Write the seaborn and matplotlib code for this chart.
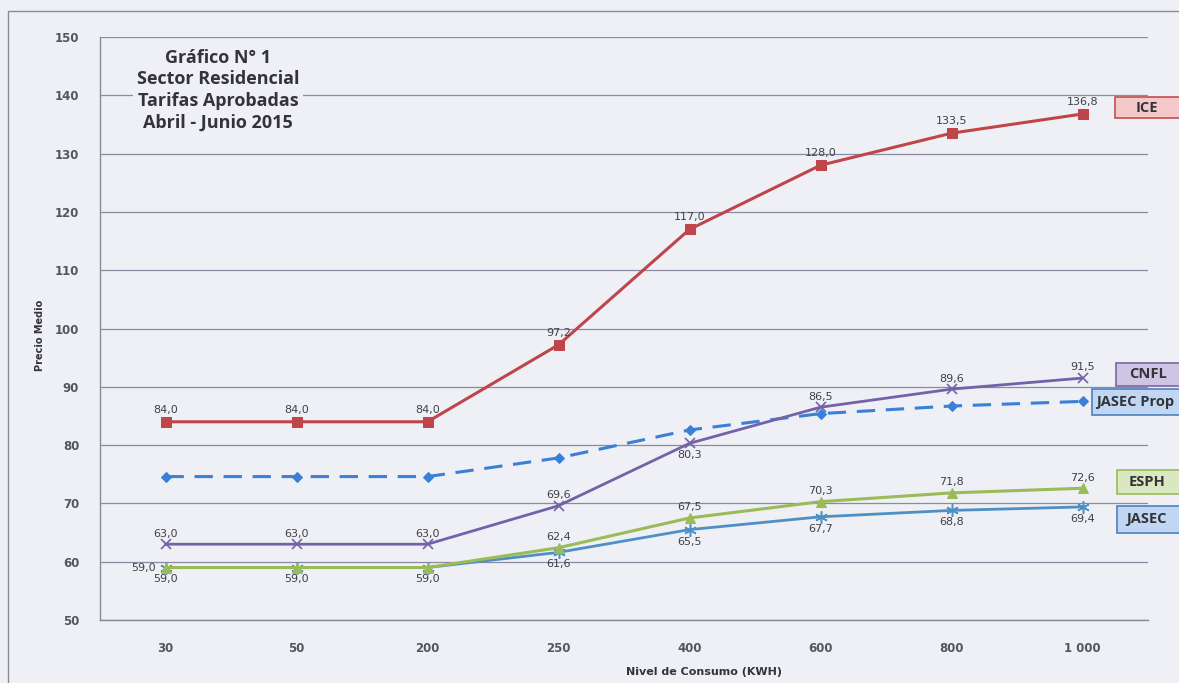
import matplotlib
matplotlib.use('Agg')
import matplotlib.pyplot as plt
import matplotlib.patches as mpatches
import seaborn as sns
import pandas as pd

# datos
niveles = ['30', '50', '200', '250', '400', '600', '800', '1 000']
ice = [84.0, 84.0, 84.0, 97.2, 117.0, 128.0, 133.5, 136.8]
cnfl = [63.0, 63.0, 63.0, 69.6, 80.3, 86.5, 89.6, 91.5]
jasec_prop = [74.6, 74.6, 74.6, 77.8, 82.6, 85.4, 86.7, 87.5]
esph = [59.0, 59.0, 59.0, 62.4, 67.5, 70.3, 71.8, 72.6]
jasec = [59.0, 59.0, 59.0, 61.6, 65.5, 67.7, 68.8, 69.4]

bg = '#eef0f5'
sns.set_style('white')
plt.rcParams['font.family'] = ['DejaVu Sans']

fig = plt.figure(figsize=(11.79, 6.83), dpi=100, facecolor=bg)
ax = fig.add_axes([100/1179, 1-620/683, 1048/1179, 583/683])
ax.set_facecolor(bg)

pos = list(range(len(niveles)))

def serie(vals, nombre):
    return pd.DataFrame({'pos': pos, 'valor': vals, 'empresa': nombre})

# lineas
sns.lineplot(data=serie(ice, 'ICE'), x='pos', y='valor', ax=ax, color='#c0454a',
             lw=2.2, marker='s', ms=7, mec='#c0454a', zorder=5)
sns.lineplot(data=serie(jasec_prop, 'JASEC Prop'), x='pos', y='valor', ax=ax, color='#3a80d6',
             lw=2.2, marker='D', ms=5.5, mec='#3a80d6', zorder=4)
ax.lines[-1].set_dashes([6, 3.5])
sns.lineplot(data=serie(cnfl, 'CNFL'), x='pos', y='valor', ax=ax, color='#7462a8',
             lw=2.0, marker='x', ms=7, mew=1.2, mec='#7462a8', zorder=5)
sns.lineplot(data=serie(jasec, 'JASEC'), x='pos', y='valor', ax=ax, color='#4f90c4',
             lw=2.0, marker=(6, 2, 0), ms=9, mew=1.1, mec='#4f90c4', zorder=4)
sns.lineplot(data=serie(esph, 'ESPH'), x='pos', y='valor', ax=ax, color='#9bbb59',
             lw=2.2, marker='^', ms=7, mec='#9bbb59', zorder=5)

ax.set_xlim(-0.5, 7.5)
ax.set_ylim(50, 150)
ax.set_yticks(range(50, 151, 10))
ax.set_xticks(pos)
ax.set_xticklabels(niveles)
ax.set_xticks([p + 0.5 for p in range(-1, 8)], minor=True)
ax.tick_params(axis='x', which='major', length=0, pad=16, labelsize=8.5, labelcolor='#555560')
ax.tick_params(axis='x', which='minor', length=4, color='#8a8a95', direction='out')
ax.tick_params(axis='y', length=5, color='#8a8a95', pad=10, labelsize=8.5, labelcolor='#555560')
for lab in ax.get_xticklabels() + ax.get_yticklabels():
    lab.set_fontweight('bold')
ax.yaxis.grid(True, color='#8a8aa0', lw=0.9)
ax.set_axisbelow(True)
for s in ['top', 'right']:
    ax.spines[s].set_visible(False)
for s in ['left', 'bottom']:
    ax.spines[s].set_color('#8a8a95')
    ax.spines[s].set_linewidth(1)
ax.set_xlabel('')
ax.set_ylabel('')

# etiquetas de datos
def fmt(v):
    return f'{v:.1f}'.replace('.', ',')

lab_kw = dict(textcoords='offset points', fontsize=8, color='#404048', zorder=6)
for i, v in enumerate(ice):
    ax.annotate(fmt(v), (i, v), xytext=(0, 5), ha='center', va='bottom', **lab_kw)
for i, v in enumerate(cnfl):
    if i == 4:
        ax.annotate(fmt(v), (i, v), xytext=(0, -5), ha='center', va='top', **lab_kw)
    else:
        ax.annotate(fmt(v), (i, v), xytext=(0, 4), ha='center', va='bottom', **lab_kw)
for i, v in enumerate(esph):
    if i == 0:
        ax.annotate(fmt(v), (i, v), xytext=(-7, 0), ha='right', va='center', **lab_kw)
    elif i >= 3:
        ax.annotate(fmt(v), (i, v), xytext=(0, 4), ha='center', va='bottom', **lab_kw)
for i, v in enumerate(jasec):
    ax.annotate(fmt(v), (i, v), xytext=(0, -5), ha='center', va='top', **lab_kw)

# titulo
fig.text(218/1179, 1-90/683, 'Gráfico N° 1\nSector Residencial\nTarifas Aprobadas\nAbril - Junio 2015',
         ha='center', va='center', fontsize=13, fontweight='bold', family=['Open Sans', 'DejaVu Sans'],
         color='#333338', linespacing=1.25,
         bbox=dict(facecolor=bg, edgecolor='none', pad=3))

fig.text(40/1179, 1-335/683, 'Precio Medio', rotation=90, ha='center', va='center',
         fontsize=7, fontweight='bold', color='#333338')
fig.text(704/1179, 1-672/683, 'Nivel de Consumo (KWH)', ha='center', va='center',
         fontsize=8, fontweight='bold', color='#333338')

# cajas de nombre a la derecha
cajas = [('ICE', 1115, 97, 118, '#f5c8c9', '#c0504d', 1136),
         ('CNFL', 1116, 363, 386, '#cec5e4', '#8064a2', 1129),
         ('JASEC Prop', 1092, 389, 415, '#c0d6f2', '#4f81bd', 1096),
         ('ESPH', 1117, 470, 494, '#d9e8c0', '#9bbb59', 1129),
         ('JASEC', 1117, 506, 533, '#c0d6f2', '#4f81bd', 1126)]
for nombre, x0, y0, y1, fc, ec, tx in cajas:
    r = mpatches.Rectangle((x0/1179, 1-y1/683), (1185-x0)/1179, (y1-y0)/683,
                           transform=fig.transFigure, facecolor=fc, edgecolor=ec, lw=1.2)
    fig.patches.append(r)
    fig.text(tx/1179, 1-(y0+y1)/2/683, nombre, ha='left', va='center', fontsize=10.5,
             fontweight='bold', family=['Open Sans', 'DejaVu Sans'], color='#333338')

# marco exterior
marco = mpatches.Rectangle((8/1179, -0.05), 1.1, 1-11/683+0.05, transform=fig.transFigure,
                           facecolor='none', edgecolor='#8a8a95', lw=1)
fig.patches.append(marco)

fig.savefig('out.png', dpi=100, facecolor=bg)
